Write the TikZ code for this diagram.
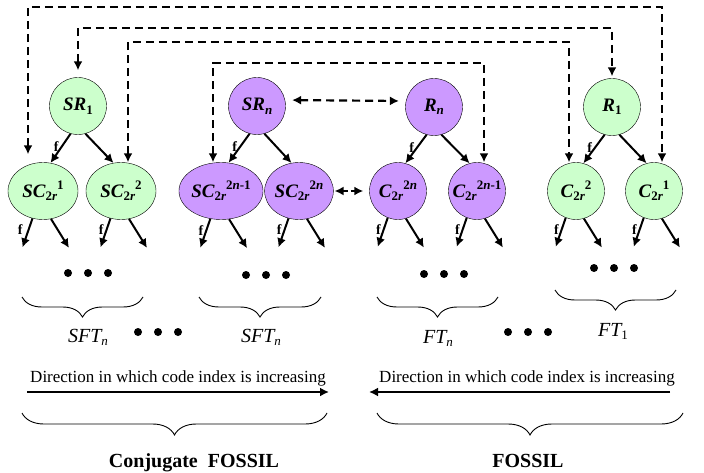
\documentclass[tikz,border=0pt]{standalone}
\usepackage{fontspec}
\setmainfont{Liberation Serif}
\usetikzlibrary{arrows.meta,decorations.pathreplacing,shapes.geometric,calc}
\definecolor{treegreen}{HTML}{CCFFCC}
\definecolor{treepurple}{HTML}{CC99FF}
\tikzset{
    root/.style = {draw, circle, thin, minimum size=57pt, inner sep=0pt,
        font=\fontsize{19}{22}\selectfont\bfseries\itshape},
    kid/.style = {draw, ellipse, thin, minimum width=70pt,
        minimum height=57pt, inner sep=0pt,
        font=\fontsize{19}{22}\selectfont\bfseries\itshape},
    kidc/.style = {draw, circle, thin, minimum size=57pt, inner sep=0pt,
        font=\fontsize{19}{22}\selectfont\bfseries\itshape},
    gfill/.style = {fill=treegreen},
    pfill/.style = {fill=treepurple},
    arrow/.style = {draw, ->, line width=2pt},
    dlink/.style = {draw, <->, line width=2.2pt, dash pattern=on 8pt off 5pt},
    flab/.style = {left, inner sep=2pt, font=\fontsize{14}{16}\selectfont\bfseries},
    cbrace/.style = {decorate, decoration={brace, mirror, amplitude=20pt}, line width=0.9pt},
    treename/.style = {anchor=base, font=\fontsize{20}{22}\selectfont\itshape},
    dirtext/.style = {anchor=base, font=\fontsize{17}{19}\selectfont},
    famname/.style = {anchor=base, font=\fontsize{20}{22}\selectfont\bfseries}
}
\newcommand{\nsub}[1]{\raisebox{-0.4ex}{\fontsize{13}{13}\selectfont\upshape #1}}
\newcommand{\nsup}[1]{\raisebox{0.9ex}{\fontsize{13}{13}\selectfont\upshape #1}}
\def\dotrow{%
    circle (4) ++(20,0) circle (4) ++(20,0) circle (4)
}

\begin{document}
\begin{tikzpicture}[x=1pt, y=-1pt, >={Latex[length=9pt,width=9pt]}]
    \useasboundingbox (0,0) rectangle (704,473);
    % roots
    \node [root, gfill] (SR1) at (78,106) {SR\nsub{1}};
    \node [root, pfill] (SRn) at (257,106) {SR\nsub{\textit{n}}};
    \node [root, pfill] (Rn) at (434,107) {R\nsub{\textit{n}}};
    \node [root, gfill] (R1) at (612,107) {R\nsub{1}};
    % children
    \node [kid, gfill] (SC1) at (43,191) {SC\nsub{2\textit{r}}\nsup{1}};
    \node [kid, gfill] (SC2) at (121,191) {SC\nsub{2\textit{r}}\nsup{2}};
    \node [kid, pfill] (SCm) at (221,191) {SC\nsub{2\textit{r}}\nsup{2\textit{n}-1}};
    \node [kid, pfill, minimum width=68pt] (SCn) at (299,191) {SC\nsub{2\textit{r}}\nsup{2\textit{n}}};
    \node [kidc, pfill] (Cn) at (398,191) {C\nsub{2\textit{r}}\nsup{2\textit{n}}};
    \node [kidc, pfill] (Cm) at (477,191) {C\nsub{2\textit{r}}\nsup{2\textit{n}-1}};
    \node [kidc, gfill] (C2) at (576,191) {C\nsub{2\textit{r}}\nsup{2}};
    \node [kidc, gfill] (C1) at (654,191) {C\nsub{2\textit{r}}\nsup{1}};
    % root to children
    \draw [arrow] (SR1.-105) -- node [flab, pos=.45] {f} (SC1.75);
    \draw [arrow] (SR1.-75) -- (SC2.105);
    \draw [arrow] (SRn.-105) -- node [flab, pos=.45] {f} (SCm.75);
    \draw [arrow] (SRn.-75) -- (SCn.105);
    \draw [arrow] (Rn.-105) -- node [flab, pos=.45] {f} (Cn.75);
    \draw [arrow] (Rn.-75) -- (Cm.105);
    \draw [arrow] (R1.-105) -- node [flab, pos=.45] {f} (C2.75);
    \draw [arrow] (R1.-75) -- (C1.105);
    % children going down
    \draw [arrow] (SC1.-111) -- node [flab, pos=.4, inner sep=5pt] {f} ++(-10,29);
    \draw [arrow] (SC1.-74) -- ++(18,29);
    \draw [arrow] (SC2.-111) -- node [flab, pos=.4] {f} ++(-10,29);
    \draw [arrow] (SC2.-74) -- ++(18,29);
    \draw [arrow] (SCm.-111) -- node [flab, pos=.4] {f} ++(-10,29);
    \draw [arrow] (SCm.-74) -- ++(18,29);
    \draw [arrow] (SCn.-111) -- node [flab, pos=.4] {f} ++(-10,29);
    \draw [arrow] (SCn.-74) -- ++(18,29);
    \draw [arrow] (Cn.-111) -- node [flab, pos=.4] {f} ++(-10,29);
    \draw [arrow] (Cn.-74) -- ++(18,29);
    \draw [arrow] (Cm.-111) -- node [flab, pos=.4] {f} ++(-10,29);
    \draw [arrow] (Cm.-74) -- ++(18,29);
    \draw [arrow] (C2.-111) -- node [flab, pos=.4] {f} ++(-10,29);
    \draw [arrow] (C2.-74) -- ++(18,29);
    \draw [arrow] (C1.-111) -- node [flab, pos=.4] {f} ++(-10,29);
    \draw [arrow] (C1.-74) -- ++(18,29);
    % dashed links between conjugate pairs
    \coordinate (top1) at (350,7);
    \coordinate (top2) at (350,28);
    \coordinate (top3) at (350,42);
    \coordinate (top4) at (350,63);
    \draw [dlink, shorten <=8pt] ([xshift=-15pt]SC1.north) |- (top1) -| ([xshift=8pt]C1.north);
    \draw [dlink, shorten <=7pt, shorten >=2pt] (SR1.north) |- (top2) -| (R1.north);
    \draw [dlink] ([xshift=7pt]SC2.north) |- (top3) -| ([xshift=-7pt]C2.north);
    \draw [dlink] ([xshift=-8pt]SCm.north) |- (top4) -| ([xshift=7pt]Cm.north);
    \draw [dlink, shorten <=7pt, shorten >=7pt] (SRn.12) -- (Rn.168);
    \draw [dlink, dash pattern=on 5pt off 3pt, shorten <=1pt, shorten >=6pt] (SCn.east) -- (Cn.west);
    % dots
    \fill (68,273) \dotrow;
    \fill (246,275) \dotrow;
    \fill (424,274) \dotrow;
    \fill (594,268) \dotrow;
    \fill (138,332) \dotrow;
    \fill (508,332) \dotrow;
    % braces under the trees
    \draw [cbrace] (22,297) -- (143,297);
    \draw [cbrace] (199,297) -- (321,297);
    \draw [cbrace] (377,297) -- (498,297);
    \draw [cbrace] (555,290) -- (676,290);
    \node [treename] (sft1) at (88,342) {SFT\nsub{\textit{n}}};
    \node [treename] (sft2) at (261,342) {SFT\nsub{\textit{n}}};
    \node [treename] (ftn) at (438,343) {FT\nsub{\textit{n}}};
    \node [treename] (ft1) at (613,336) {FT\nsub{1}};
    % direction of code index
    \node [dirtext] (dirL) at (178,382) {Direction in which code index is increasing};
    \node [dirtext] (dirR) at (527,382) {Direction in which code index is increasing};
    \coordinate (dl1) at (27,392);
    \coordinate (dl2) at (329,392);
    \coordinate (dr1) at (670,392);
    \coordinate (dr2) at (369,392);
    \draw [arrow] (dl1) -- (dl2);
    \draw [arrow] (dr1) -- (dr2);
    % families
    \draw [cbrace, decoration={amplitude=22pt}] (22,413) -- (327,413);
    \draw [cbrace, decoration={amplitude=22pt}] (377,413) -- (683,413);
    \node [famname] (conj) at (194,467) {Conjugate\ \ FOSSIL};
    \node [famname] (foss) at (528,467) {FOSSIL};
\end{tikzpicture}
\end{document}
